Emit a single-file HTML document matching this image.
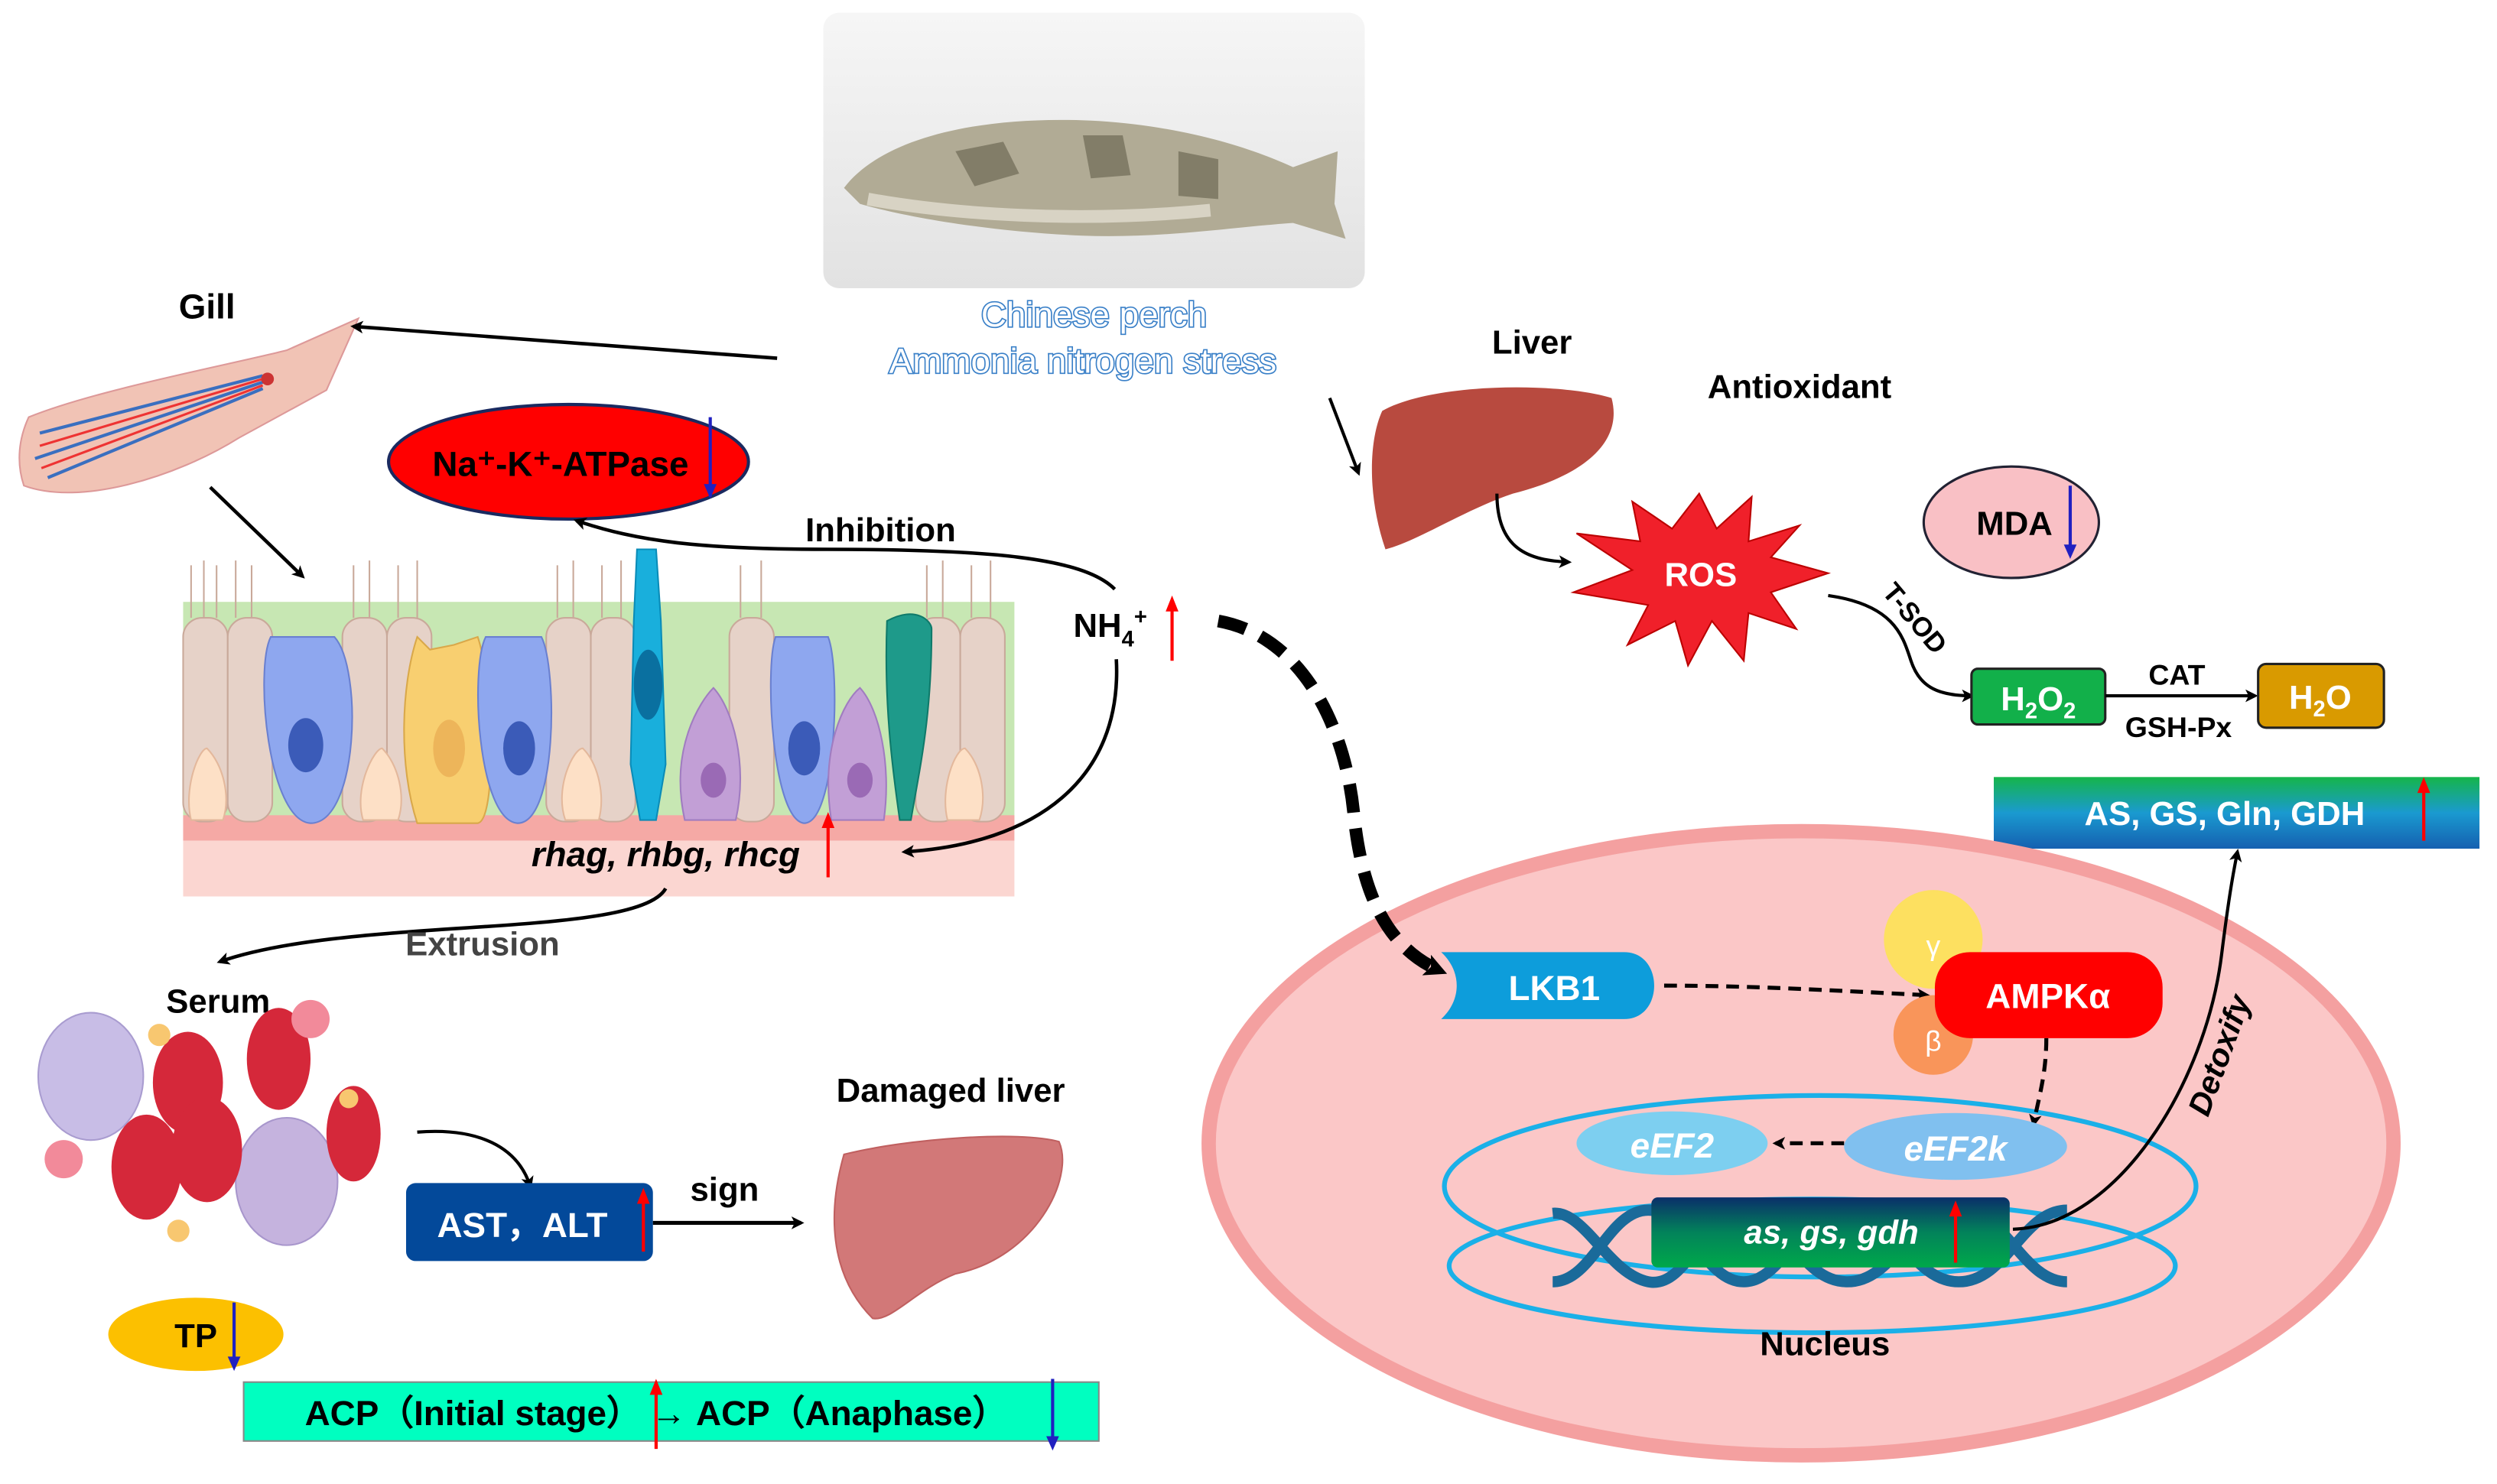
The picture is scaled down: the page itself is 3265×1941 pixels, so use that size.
<!DOCTYPE html>
<html><head><meta charset="utf-8"><style>
html,body{margin:0;padding:0;background:#fff;}
svg{display:block;}
text{font-family:"Liberation Sans Narrow","Liberation Sans",sans-serif;font-weight:bold;}
</style></head><body>
<svg width="3265" height="1941" viewBox="0 0 1568 932" preserveAspectRatio="none" xmlns="http://www.w3.org/2000/svg">
<defs>
<marker id="ah" markerWidth="8" markerHeight="8" refX="6" refY="4" orient="auto" markerUnits="userSpaceOnUse"><path d="M0,0 L8,4 L0,8 L2,4z" fill="#000"/></marker>
<marker id="ahb" markerWidth="14" markerHeight="14" refX="10" refY="7" orient="auto" markerUnits="userSpaceOnUse"><path d="M0,0 L14,7 L0,14 L3,7z" fill="#000"/></marker>
<linearGradient id="gb" x1="0" y1="0" x2="0" y2="1"><stop offset="0" stop-color="#15b54a"/><stop offset="0.5" stop-color="#1a9ad0"/><stop offset="1" stop-color="#1560b0"/></linearGradient>
<linearGradient id="gg" x1="0" y1="0" x2="0" y2="1"><stop offset="0" stop-color="#0a2f6a"/><stop offset="0.5" stop-color="#02835a"/><stop offset="1" stop-color="#00a84a"/></linearGradient>
<linearGradient id="fishbg" x1="0" y1="0" x2="0" y2="1"><stop offset="0" stop-color="#f6f6f6"/><stop offset="1" stop-color="#e2e2e2"/></linearGradient>
</defs>

<!-- fish photo -->
<rect x="517" y="8" width="340" height="173" rx="10" fill="url(#fishbg)"/>
<path d="M530,118 C555,85 620,72 690,76 C750,80 790,95 812,105 L840,95 L838,128 L845,150 L812,140 C780,142 730,150 680,148 C630,146 575,138 540,128 Z" fill="#b1ab95"/>
<path d="M600,95 l30,-6 l10,20 l-28,8z M680,85 l25,0 l5,25 l-25,2z M740,95 l25,5 l0,25 l-25,-2z" fill="#6d6a55" opacity=".7"/>
<path d="M545,125 C600,135 680,140 760,132" stroke="#e8e4d8" stroke-width="8" fill="none" opacity=".7"/>
<text x="687" y="205" font-size="22" text-anchor="middle" fill="#fff" stroke="#3a80c8" stroke-width="1.6" paint-order="stroke" style="font-weight:normal">Chinese perch</text>
<text x="680" y="234" font-size="22" text-anchor="middle" fill="#fff" stroke="#3a80c8" stroke-width="1.6" paint-order="stroke" style="font-weight:normal">Ammonia nitrogen stress</text>

<!-- gill -->
<text x="130" y="200" font-size="22" text-anchor="middle">Gill</text>
<path d="M18,262 C60,245 140,230 180,220 L225,200 L205,245 L150,275 C110,300 50,318 15,305 C10,290 12,275 18,262Z" fill="#f1c3b5" stroke="#d99" stroke-width="1"/>
<path d="M25,272 L165,236 M22,288 L165,240 M30,300 L165,244" stroke="#3a6fc0" stroke-width="2" fill="none"/>
<path d="M25,280 L165,238 M26,294 L165,242" stroke="#e33" stroke-width="1.5"/>
<circle cx="168" cy="238" r="4" fill="#c33"/>
<path d="M488,225 L222,205" stroke="#000" stroke-width="2.2" marker-end="url(#ah)"/>
<path d="M132,306 L190,362" stroke="#000" stroke-width="2.2" marker-end="url(#ah)"/>

<!-- Na K ATPase -->
<ellipse cx="357" cy="290" rx="113" ry="36" fill="#f00" stroke="#1a2a60" stroke-width="2"/>
<text x="352" y="299" font-size="22" text-anchor="middle">Na⁺-K⁺-ATPase</text>
<line x1="446" y1="262" x2="446" y2="312" stroke="#2020c0" stroke-width="2"/><path d="M442,304 L446,313 L450,304z" fill="#2020c0"/>

<!-- epithelium -->
<rect x="115" y="378" width="522" height="140" fill="#c7e7b3"/>
<rect x="115" y="512" width="522" height="16" fill="#f5a9a5"/>
<rect x="115" y="528" width="522" height="35" fill="#fbd6d1"/>
<g fill="#e6d2c8" stroke="#c9a99a" stroke-width="1">
<rect x="115" y="388" width="28" height="128" rx="12"/><rect x="143" y="388" width="28" height="128" rx="12"/>
<rect x="215" y="388" width="28" height="128" rx="12"/><rect x="243" y="388" width="28" height="128" rx="12"/>
<rect x="343" y="388" width="28" height="128" rx="12"/><rect x="371" y="388" width="28" height="128" rx="12"/>
<rect x="458" y="388" width="28" height="128" rx="12"/><rect x="575" y="388" width="28" height="128" rx="12"/><rect x="603" y="388" width="28" height="128" rx="12"/>
</g>
<g stroke="#c9a99a" stroke-width="1">
<path d="M120,388 V355 M128,388 V352 M136,388 V355 M148,388 V352 M158,388 V355 M222,388 V355 M232,388 V352 M250,388 V355 M262,388 V352 M350,388 V355 M360,388 V352 M378,388 V355 M390,388 V352 M465,388 V355 M478,388 V352 M582,388 V355 M592,388 V352 M610,388 V355 M622,388 V352"/>
</g>
<path d="M170,400 C160,420 168,515 195,517 C225,517 228,420 210,400 Z" fill="#8ea7ef" stroke="#6a80d0"/>
<ellipse cx="192" cy="468" rx="11" ry="17" fill="#3b5bb8"/>
<path d="M262,400 L270,408 L285,405 L300,400 C310,430 312,515 300,517 L262,517 C250,480 252,430 262,400Z" fill="#f8cf70" stroke="#d9a84a"/>
<ellipse cx="282" cy="470" rx="10" ry="18" fill="#edb55a"/>
<path d="M305,400 C295,420 300,515 325,517 C350,517 350,420 340,400 Z" fill="#8ea7ef" stroke="#6a80d0"/>
<ellipse cx="326" cy="470" rx="10" ry="17" fill="#3b5bb8"/>
<path d="M400,345 L412,345 L415,390 L418,480 L412,515 L402,515 L396,480 L398,390 Z" fill="#19afdc" stroke="#0a8cb8"/>
<ellipse cx="407" cy="430" rx="9" ry="22" fill="#0a70a0"/>
<path d="M430,515 C420,470 440,440 448,432 C460,445 470,480 462,515 Z" fill="#c29fd6" stroke="#a07cc0"/>
<ellipse cx="448" cy="490" rx="8" ry="11" fill="#9a6ab5"/>
<path d="M487,400 C480,420 485,515 505,517 C525,517 528,420 520,400 Z" fill="#8ea7ef" stroke="#6a80d0"/>
<ellipse cx="505" cy="470" rx="10" ry="17" fill="#3b5bb8"/>
<path d="M522,515 C515,470 530,440 540,432 C552,445 560,480 555,515 Z" fill="#c29fd6" stroke="#a07cc0"/>
<ellipse cx="540" cy="490" rx="8" ry="11" fill="#9a6ab5"/>
<path d="M557,390 C575,380 585,390 585,395 C585,450 578,480 572,515 L565,515 C560,480 555,440 557,390Z" fill="#1e9a8a" stroke="#0f7a6a"/>
<g fill="#fde0c6" stroke="#e3b89c"><path d="M120,515 C115,495 125,470 130,470 C140,480 145,500 140,515Z"/><path d="M228,515 C222,495 235,470 240,470 C250,480 255,500 250,515Z"/><path d="M355,515 C348,495 360,470 366,470 C376,480 380,500 376,515Z"/><path d="M595,515 C590,495 600,470 606,470 C616,480 620,500 615,515Z"/></g>

<!-- NH4 -->
<text x="674" y="400" font-size="21">NH<tspan font-size="14" dy="6">4</tspan><tspan font-size="14" dy="-14">+</tspan></text>
<line x1="736" y1="415" x2="736" y2="382" stroke="#f00" stroke-width="2"/><path d="M732,384 L736,374 L740,384z" fill="#f00"/>
<text x="553" y="340" font-size="21" text-anchor="middle">Inhibition</text>
<path d="M700,370 C680,350 620,345 520,345 C440,345 400,340 362,327" stroke="#000" stroke-width="2.2" fill="none" marker-end="url(#ah)"/>
<path d="M701,414 C705,490 650,530 568,535" stroke="#000" stroke-width="2.2" fill="none" marker-end="url(#ah)"/>
<text x="418" y="544" font-size="22" text-anchor="middle" font-style="italic">rhag, rhbg, rhcg</text>
<line x1="520" y1="551" x2="520" y2="518" stroke="#f00" stroke-width="2"/><path d="M516,520 L520,510 L524,520z" fill="#f00"/>
<path d="M418,558 C400,590 220,575 138,604" stroke="#000" stroke-width="2.2" fill="none" marker-end="url(#ah)"/>
<text x="303" y="600" font-size="21" text-anchor="middle" fill="#444">Extrusion</text>

<!-- serum -->
<text x="137" y="636" font-size="21" text-anchor="middle">Serum</text>
<ellipse cx="57" cy="676" rx="33" ry="40" fill="#c8bde6" stroke="#a99cd0"/>
<ellipse cx="180" cy="742" rx="32" ry="40" fill="#c5b3de" stroke="#a896cc"/>
<g fill="#d5283a"><ellipse cx="118" cy="680" rx="22" ry="32"/><ellipse cx="175" cy="665" rx="20" ry="32"/><ellipse cx="130" cy="722" rx="22" ry="33"/><ellipse cx="92" cy="733" rx="22" ry="33"/><ellipse cx="222" cy="712" rx="17" ry="30"/></g>
<g fill="#f28a9a"><circle cx="195" cy="640" r="12"/><circle cx="40" cy="728" r="12"/></g>
<g fill="#f8c770"><circle cx="100" cy="650" r="7"/><circle cx="112" cy="773" r="7"/><circle cx="219" cy="690" r="6"/></g>
<path d="M262,711 C300,708 325,720 333,745" stroke="#000" stroke-width="2" fill="none" marker-end="url(#ah)"/>
<rect x="255" y="743" width="155" height="49" rx="6" fill="#03499a"/>
<text x="328" y="777" font-size="22" text-anchor="middle" fill="#fff">AST，ALT</text>
<line x1="404" y1="786" x2="404" y2="754" stroke="#f00" stroke-width="2"/><path d="M400,756 L404,746 L408,756z" fill="#f00"/>
<path d="M410,768 L503,768" stroke="#000" stroke-width="2.5" marker-end="url(#ah)"/>
<text x="455" y="754" font-size="21" text-anchor="middle">sign</text>
<text x="597" y="692" font-size="21" text-anchor="middle">Damaged liver</text>
<path d="M530,725 C570,715 640,710 665,717 C675,740 650,790 600,800 C575,810 560,830 548,828 C520,800 520,760 530,725Z" fill="#d27878" stroke="#c06060"/>
<ellipse cx="123" cy="838" rx="55" ry="23" fill="#fcc000"/>
<text x="123" y="846" font-size="21" text-anchor="middle">TP</text>
<line x1="147" y1="818" x2="147" y2="858" stroke="#2020c0" stroke-width="2"/><path d="M143,852 L147,861 L151,852z" fill="#2020c0"/>
<rect x="153" y="868" width="537" height="37" fill="#00ffc0" stroke="#888" stroke-width="1"/>
<text x="412" y="895" font-size="22" text-anchor="middle">ACP（Initial stage） → ACP（Anaphase）</text>
<line x1="412" y1="910" x2="412" y2="874" stroke="#f00" stroke-width="2"/><path d="M408,876 L412,866 L416,876z" fill="#f00"/>
<line x1="661" y1="866" x2="661" y2="906" stroke="#2020c0" stroke-width="2"/><path d="M657,902 L661,911 L665,902z" fill="#2020c0"/>

<!-- liver -->
<text x="962" y="222" font-size="21" text-anchor="middle">Liver</text>
<path d="M835,250 L853,297" stroke="#000" stroke-width="2" marker-end="url(#ah)"/>
<path d="M868,258 C900,240 980,240 1012,250 C1020,280 990,300 950,310 C920,320 890,340 870,345 C858,310 860,275 868,258Z" fill="#b84a3f"/>
<text x="1130" y="250" font-size="21" text-anchor="middle">Antioxidant</text>
<path d="M940,310 C940,345 960,352 985,353" stroke="#000" stroke-width="2" fill="none" marker-end="url(#ah)"/>
<path d="M1067,310 L1078,332 L1100,312 L1098,340 L1130,330 L1112,350 L1148,360 L1112,372 L1128,395 L1098,385 L1095,415 L1075,390 L1060,418 L1052,390 L1022,405 L1035,380 L988,372 L1025,358 L990,335 L1030,340 L1025,315 L1050,332 Z" fill="#f0202a" stroke="#b00" stroke-width="1"/>
<text x="1068" y="368" font-size="21" text-anchor="middle" fill="#fff">ROS</text>
<ellipse cx="1263" cy="328" rx="55" ry="35" fill="#f9c0c5" stroke="#223" stroke-width="1.5"/>
<text x="1265" y="336" font-size="21" text-anchor="middle">MDA</text>
<line x1="1300" y1="305" x2="1300" y2="347" stroke="#2020c0" stroke-width="2"/><path d="M1296,342 L1300,351 L1304,342z" fill="#2020c0"/>
<path d="M1148,374 C1190,380 1195,400 1200,415 C1205,430 1215,437 1238,437" stroke="#000" stroke-width="2" fill="none" marker-end="url(#ah)"/>
<text x="1198" y="392" font-size="17" transform="rotate(50 1198 392)" text-anchor="middle">T-SOD</text>
<rect x="1238" y="420" width="84" height="35" rx="4" fill="#12b04a" stroke="#222" stroke-width="1.5"/>
<text x="1280" y="446" font-size="21" text-anchor="middle" fill="#fff">H<tspan font-size="14" dy="5">2</tspan><tspan dy="-5">O</tspan><tspan font-size="14" dy="5">2</tspan></text>
<path d="M1322,437 L1416,437" stroke="#000" stroke-width="2" marker-end="url(#ah)"/>
<text x="1367" y="430" font-size="18" text-anchor="middle">CAT</text>
<text x="1368" y="463" font-size="18" text-anchor="middle">GSH-Px</text>
<rect x="1418" y="417" width="79" height="40" rx="5" fill="#d99a00" stroke="#222" stroke-width="1.5"/>
<text x="1457" y="445" font-size="21" text-anchor="middle" fill="#fff">H<tspan font-size="14" dy="5">2</tspan><tspan dy="-5">O</tspan></text>
<rect x="1252" y="488" width="305" height="45" fill="url(#gb)"/>
<text x="1397" y="518" font-size="21" text-anchor="middle" fill="#fff">AS, GS, Gln, GDH</text>
<line x1="1522" y1="528" x2="1522" y2="496" stroke="#f00" stroke-width="2"/><path d="M1518,498 L1522,488 L1526,498z" fill="#f00"/>

<!-- big cell -->
<ellipse cx="1131" cy="718" rx="372" ry="196" fill="#fbc7c7" stroke="#f4a0a0" stroke-width="9"/>
<ellipse cx="1143" cy="745" rx="236" ry="57" fill="none" stroke="#1ab0e8" stroke-width="3"/>
<ellipse cx="1138" cy="795" rx="228" ry="42" fill="none" stroke="#1ab0e8" stroke-width="3"/>
<path d="M765,390 C820,400 845,460 850,510 C855,560 870,595 905,610" stroke="#000" stroke-width="8" fill="none" stroke-dasharray="18,10" marker-end="url(#ahb)"/>
<path d="M905,598 L1020,598 C1045,598 1045,640 1020,640 L905,640 C918,628 918,610 905,598Z" fill="#0d9ddb"/>
<text x="976" y="628" font-size="22" text-anchor="middle" fill="#fff">LKB1</text>
<path d="M1045,619 C1100,619 1150,622 1210,625" stroke="#000" stroke-width="2.5" stroke-dasharray="8,5" fill="none" marker-end="url(#ah)"/>
<circle cx="1214" cy="590" r="31" fill="#fde060"/>
<circle cx="1214" cy="650" r="25" fill="#f9955a"/>
<rect x="1215" y="598" width="143" height="54" rx="22" fill="#f00"/>
<text x="1286" y="633" font-size="22" text-anchor="middle" fill="#fff">AMPKα</text>
<text x="1214" y="600" font-size="18" text-anchor="middle" fill="#fff" style="font-weight:normal">γ</text>
<text x="1214" y="660" font-size="18" text-anchor="middle" fill="#fff" style="font-weight:normal">β</text>
<path d="M1285,652 C1285,675 1280,690 1277,706" stroke="#000" stroke-width="2.5" stroke-dasharray="8,5" fill="none" marker-end="url(#ah)"/>
<ellipse cx="1050" cy="718" rx="60" ry="20" fill="#7dcff0"/>
<text x="1050" y="727" font-size="22" text-anchor="middle" fill="#fff" font-style="italic">eEF2</text>
<ellipse cx="1228" cy="720" rx="70" ry="21" fill="#80c0ef"/>
<text x="1228" y="729" font-size="22" text-anchor="middle" fill="#fff" font-style="italic">eEF2k</text>
<path d="M1158,718 L1115,718" stroke="#000" stroke-width="2.5" stroke-dasharray="8,5" marker-end="url(#ah)"/>
<!-- DNA -->
<g fill="none" stroke="#1a6a9a" stroke-width="7">
<path d="M975,762 C995,760 1010,800 1035,805 C1060,810 1070,760 1095,760 C1120,760 1130,805 1160,805 C1190,805 1200,760 1230,760 C1260,760 1270,805 1298,805"/>
<path d="M975,805 C1000,805 1010,760 1035,760 C1060,760 1070,805 1095,805 C1120,805 1130,760 1160,760 C1190,760 1200,805 1230,805 C1260,805 1270,760 1298,760"/>
</g>
<rect x="1037" y="752" width="225" height="44" rx="4" fill="url(#gg)"/>
<text x="1150" y="781" font-size="21" text-anchor="middle" fill="#fff" font-style="italic">as, gs, gdh</text>
<line x1="1228" y1="793" x2="1228" y2="762" stroke="#f00" stroke-width="2"/><path d="M1224,764 L1228,754 L1232,764z" fill="#f00"/>
<text x="1146" y="851" font-size="21" text-anchor="middle">Nucleus</text>
<path d="M1264,772 C1330,770 1385,680 1395,600 C1400,560 1403,545 1405,535" stroke="#000" stroke-width="2" fill="none" marker-end="url(#ah)"/>
<text x="1400" y="665" font-size="20" text-anchor="middle" font-style="italic" transform="rotate(-70 1400 665)">Detoxify</text>
</svg>
</body></html>
